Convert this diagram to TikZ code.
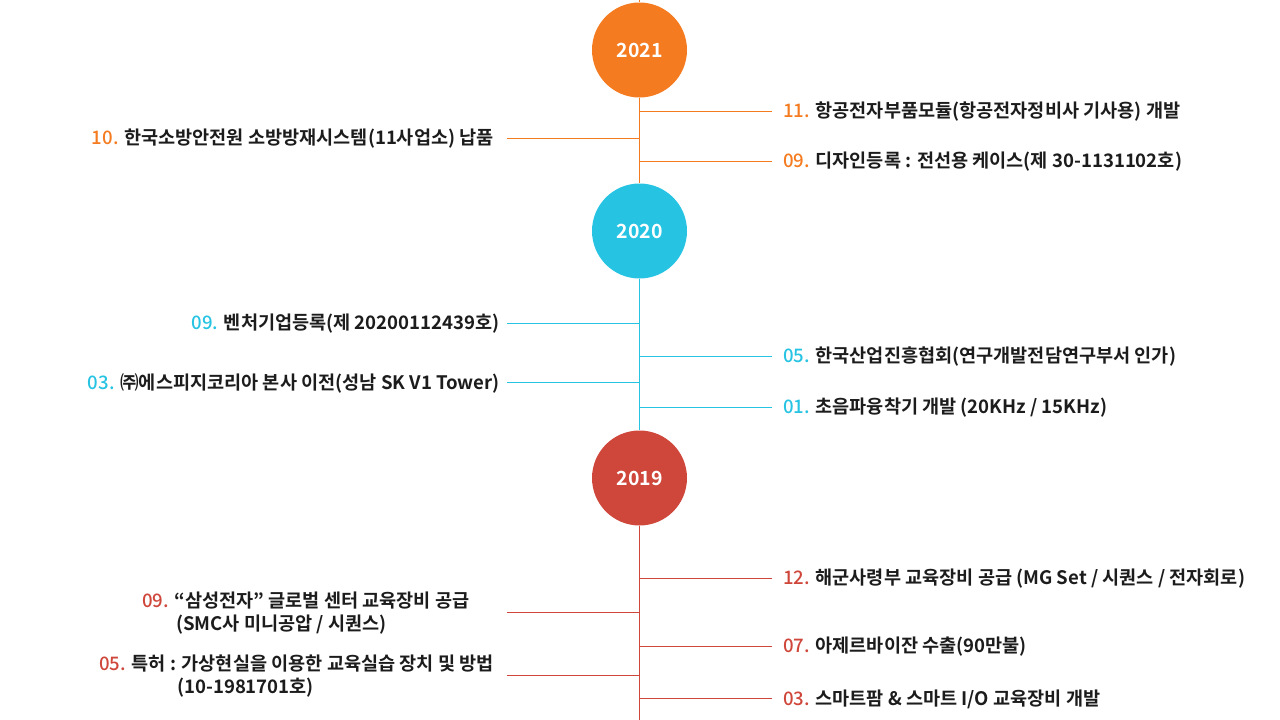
\documentclass[tikz,border=0pt]{standalone}
\usepackage{fontspec}
\setmainfont{Noto Sans CJK KR}[BoldFont={* Bold}]
\newfontfamily\numfont{Noto Sans CJK KR Medium}
\usetikzlibrary{positioning}
\definecolor{c2021}{HTML}{F47B20}
\definecolor{c2020}{HTML}{27C3E3}
\definecolor{c2019}{HTML}{CF473B}
\definecolor{ink}{HTML}{1C1C1C}
\newcommand{\mon}[2]{\textcolor{#1}{\numfont\mdseries #2}}

\begin{document}
\begin{tikzpicture}[x=1pt,y=-1pt,
  year/.style={circle,fill=#1,minimum size=95pt,inner sep=0pt,text=white,font=\fontsize{19.5}{19.5}\selectfont\bfseries},
  item/.style={inner sep=0pt,text=ink,font=\fontsize{18.6}{23}\selectfont\bfseries,align=left,yshift=-1pt},
  ritem/.style={item,anchor=west},
  litem/.style={item,anchor=east}]
\tikzset{edge/.style={draw=#1,line width=1pt}}
\useasboundingbox (0,0) rectangle (1280,720);
%years on the axis
\node[year=c2021] (y2021) at (639.5,50) {2021};
\node[year=c2020] (y2020) at (639.5,231) {2020};
\node[year=c2019] (y2019) at (639.5,478) {2019};
\coordinate (top) at (639.5,0);
\coordinate (bot) at (639.5,720);
\draw[edge=c2021] (top) -- (y2021.north);
\draw[edge=c2021] (y2021.south) -- (y2020.north);
\draw[edge=c2020] (y2020.south) -- (y2019.north);
\draw[edge=c2019] (y2019.south) -- (bot);
%2021
\coordinate (a11) at (639.5,111); \coordinate (e11) at (772,111);
\node[ritem] (t11) at (783,111) {\mon{c2021}{11.} 항공전자부품모듈(항공전자정비사 기사용) 개발};
\draw[edge=c2021] (a11) -- (e11);
\coordinate (a10) at (639.5,138); \coordinate (e10) at (507,138);
\node[litem] (t10) at (494,138) {\mon{c2021}{10.} 한국소방안전원 소방방재시스템(11사업소) 납품};
\draw[edge=c2021] (a10) -- (e10);
\coordinate (a09) at (639.5,161); \coordinate (e09) at (772,161);
\node[ritem] (t09) at (783,161) {\mon{c2021}{09.} 디자인등록 : 전선용 케이스(제 30-1131102호)};
\draw[edge=c2021] (a09) -- (e09);
%2020
\coordinate (b09) at (639.5,323); \coordinate (f09) at (507,323);
\node[litem] (u09) at (500,323) {\mon{c2020}{09.} 벤처기업등록(제 20200112439호)};
\draw[edge=c2020] (b09) -- (f09);
\coordinate (b05) at (639.5,356); \coordinate (f05) at (772,356);
\node[ritem] (u05) at (783,356) {\mon{c2020}{05.} 한국산업진흥협회(연구개발전담연구부서 인가)};
\draw[edge=c2020] (b05) -- (f05);
\coordinate (b03) at (639.5,382); \coordinate (f03) at (507,382);
\node[litem] (u03) at (500,382) {\mon{c2020}{03.} ㈜에스피지코리아 본사 이전(성남 SK V1 Tower)};
\draw[edge=c2020] (b03) -- (f03);
\coordinate (b01) at (639.5,407); \coordinate (f01) at (772,407);
\node[ritem] (u01) at (783,407) {\mon{c2020}{01.} 초음파융착기 개발 (20KHz / 15KHz)};
\draw[edge=c2020] (b01) -- (f01);
%2019
\coordinate (c12) at (639.5,578); \coordinate (g12) at (772,578);
\node[ritem] (v12) at (783,578) {\mon{c2019}{12.} 해군사령부 교육장비 공급 (MG Set / 시퀀스 / 전자회로)};
\draw[edge=c2019] (c12) -- (g12);
\coordinate (c09) at (639.5,612); \coordinate (g09) at (507,612);
\node[item,anchor=west] (v09) at (142,612) {\mon{c2019}{09.} “삼성전자” 글로벌 센터 교육장비 공급\\\hspace*{34pt}(SMC사 미니공압 / 시퀀스)};
\draw[edge=c2019] (c09) -- (g09);
\coordinate (c07) at (639.5,646); \coordinate (g07) at (772,646);
\node[ritem] (v07) at (783,646) {\mon{c2019}{07.} 아제르바이잔 수출(90만불)};
\draw[edge=c2019] (c07) -- (g07);
\coordinate (c05) at (639.5,675); \coordinate (g05) at (507,675);
\node[item,anchor=west] (v05) at (99,675) {\mon{c2019}{05.} 특허 : 가상현실을 이용한 교육실습 장치 및 방법\\\hspace*{78pt}(10-1981701호)};
\draw[edge=c2019] (c05) -- (g05);
\coordinate (c03) at (639.5,698); \coordinate (g03) at (772,698);
\node[ritem] (v03) at (783,698) {\mon{c2019}{03.} 스마트팜 \& 스마트 I/O 교육장비 개발};
\draw[edge=c2019] (c03) -- (g03);
\end{tikzpicture}
\end{document}
